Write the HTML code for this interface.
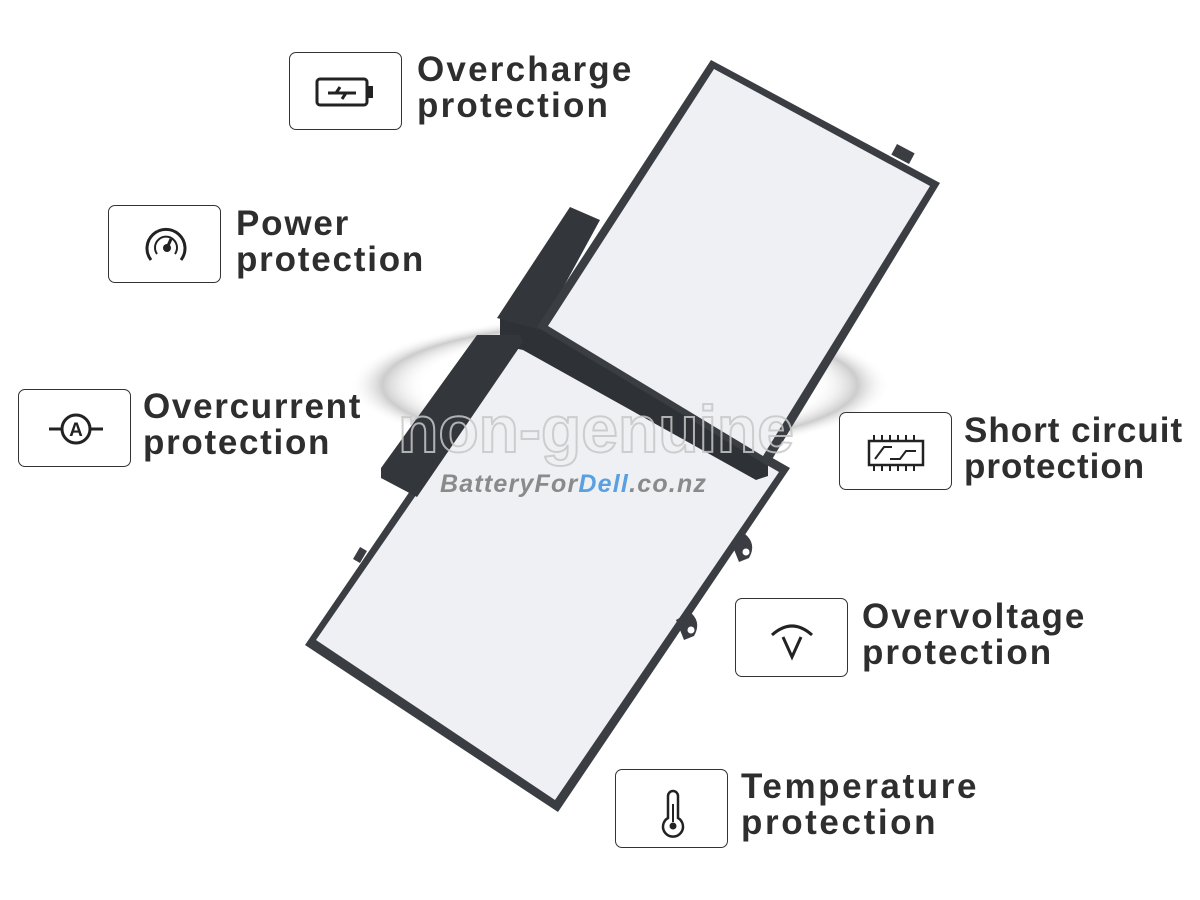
<!DOCTYPE html>
<html><head><meta charset="utf-8"><style>
body{margin:0;width:1200px;height:900px;background:#fff;position:relative;overflow:hidden;font-family:"Liberation Sans",sans-serif}
.box{position:absolute;width:110px;height:76px;border:1.6px solid #333;border-radius:7px;background:#fff;box-sizing:border-box}
.box svg{position:absolute;left:0;top:0}
.t{position:absolute;font-weight:bold;font-size:35px;line-height:36px;color:#2e2e2e;letter-spacing:1.2px;white-space:nowrap}
</style></head><body>
<svg width="1200" height="900" style="position:absolute;left:0;top:0">
<defs>
<radialGradient id="sw" cx="50%" cy="50%" r="50%"><stop offset="0.72" stop-color="#fff" stop-opacity="0"/><stop offset="0.88" stop-color="#aaa" stop-opacity="0.6"/><stop offset="1" stop-color="#fff" stop-opacity="0"/></radialGradient>
</defs>
<ellipse cx="620" cy="385" rx="270" ry="70" fill="url(#sw)"/>
<!-- bottom panel -->
<polygon points="528,318 790,468 558,812 305,645" fill="#3a3d42"/>
<polygon points="530,330 779,472 555,800 316,640" fill="#eef0f3"/>
<path d="M676 620 L690 612 Q702 622 694 636 L684 640 Z" fill="#3a3d42"/><circle cx="691" cy="630" r="3.5" fill="#fff"/>
<path d="M731 542 L745 534 Q757 544 749 558 L739 562 Z" fill="#3a3d42"/><circle cx="746" cy="552" r="3.5" fill="#fff"/>
<rect x="356" y="548" width="8" height="14" fill="#3a3d42" transform="rotate(30 360 555)"/>
<!-- divider band -->
<polygon points="500,318 540,324 768,458 768,476 756,480 523,350 500,345" fill="#2e3136"/>
<!-- left connector -->
<polygon points="381,478 417,497 523,342 520,335 477,335 381,468" fill="#33363b"/>
<!-- upper connector -->
<polygon points="570,207 600,220 540,330 497,318" fill="#33363b"/>
<!-- top panel -->
<polygon points="711,60 940,183 768,466 537,327" fill="#3a3d42"/>
<polygon points="714,69 930,186 763,456 548,326" fill="#eef0f3"/>
<rect x="893" y="148" width="20" height="12" fill="#3a3d42" transform="rotate(28 903 154)"/>
<!-- watermark -->
<text x="398" y="452" font-family="Liberation Sans" font-weight="bold" font-size="66" fill="none" stroke="#c8c8c8" stroke-width="2" opacity="0.85">non-genuine</text>
<text x="440" y="492" font-family="Liberation Sans" font-weight="bold" font-style="italic" font-size="25" fill="#8a8a8a" letter-spacing="1.2">BatteryFor<tspan fill="#5aa0e0">Dell</tspan>.co.nz</text>
</svg>

<div class="box" style="left:289px;top:52px;width:113px;height:78px"><svg width="113" height="78"><rect x="27" y="26" width="50" height="26" rx="3" fill="none" stroke="#222" stroke-width="3"/><rect x="78" y="33" width="5" height="12" fill="#222"/><path d="M38 40 H66 M50 34 L46 40 H56 L52 46" stroke="#222" stroke-width="3" fill="none"/></svg></div>
<div class="t" style="left:417px;top:52px;letter-spacing:2.2px">Overcharge<br>protection</div>

<div class="box" style="left:108px;top:205px;width:113px;height:78px"><svg width="113" height="78"><path d="M42 54 A19 19 0 1 1 72 54" fill="none" stroke="#222" stroke-width="3"/><path d="M48 48 A11 11 0 1 1 66 48" fill="none" stroke="#222" stroke-width="2"/><circle cx="58" cy="42" r="4" fill="#222"/><path d="M58 42 L62 33" stroke="#222" stroke-width="3"/></svg></div>
<div class="t" style="left:236px;top:206px;letter-spacing:1.8px">Power<br>protection</div>

<div class="box" style="left:18px;top:389px;width:113px;height:78px"><svg width="113" height="78"><circle cx="57" cy="39" r="14" fill="none" stroke="#222" stroke-width="3"/><path d="M30 39 H43 M71 39 H84" stroke="#222" stroke-width="3"/><text x="57" y="46" text-anchor="middle" font-family="Liberation Sans" font-weight="bold" font-size="19" fill="#222">A</text></svg></div>
<div class="t" style="left:143px;top:389px;letter-spacing:1.7px">Overcurrent<br>protection</div>

<div class="box" style="left:839px;top:412px;width:113px;height:78px"><svg width="113" height="78"><rect x="29" y="28" width="54" height="24" fill="none" stroke="#222" stroke-width="2.5"/><path d="M34 22 V28 M42 22 V28 M50 22 V28 M58 22 V28 M66 22 V28 M74 22 V28 M34 52 V58 M42 52 V58 M50 52 V58 M58 52 V58 M66 52 V58 M74 52 V58 M35 46 L44 34 H52 M50 46 H60 L66 38 H76" stroke="#222" stroke-width="2" fill="none"/></svg></div>
<div class="t" style="left:964px;top:413px;letter-spacing:1px">Short circuit<br>protection</div>

<div class="box" style="left:735px;top:598px;width:113px;height:79px"><svg width="113" height="79"><path d="M36 36 Q56 18 76 36" fill="none" stroke="#222" stroke-width="3"/><path d="M47 38 L56 58 L65 38" fill="none" stroke="#222" stroke-width="3"/></svg></div>
<div class="t" style="left:862px;top:599px;letter-spacing:2px">Overvoltage<br>protection</div>

<div class="box" style="left:615px;top:769px;width:113px;height:79px"><svg width="113" height="79"><path d="M52 48 V26 A5 5 0 0 1 62 26 V48 A10 10 0 1 1 52 48 Z" fill="none" stroke="#222" stroke-width="2.5"/><path d="M57 34 V52" stroke="#222" stroke-width="2"/><circle cx="57" cy="56" r="3.5" fill="#222"/></svg></div>
<div class="t" style="left:741px;top:769px;letter-spacing:2.6px">Temperature<br>protection</div>
</body></html>
